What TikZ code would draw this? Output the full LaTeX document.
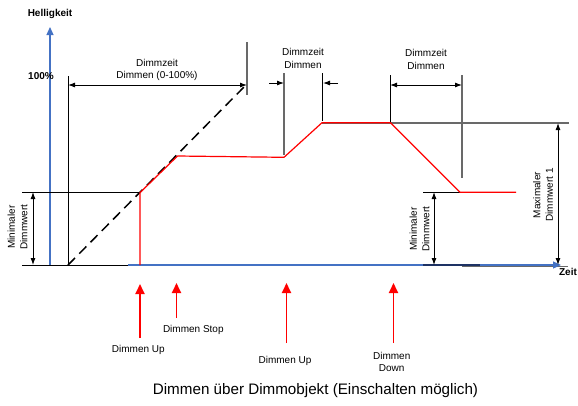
\documentclass[tikz,border=0pt]{standalone}
\usepackage{fontspec}
\setmainfont{Liberation Sans}
\usetikzlibrary{arrows.meta}
\definecolor{axisblue}{RGB}{68,114,196}
\definecolor{linegray}{RGB}{105,105,105}
\definecolor{curvered}{RGB}{255,0,0}
\begin{document}
\begin{tikzpicture}[x=1pt,y=-1pt,
  lbl/.style={font=\fontsize{10}{12.5}\selectfont, align=center, inner sep=0pt},
  boldlbl/.style={font=\fontsize{10}{12}\selectfont\bfseries, inner sep=0pt},
  rotlbl/.style={lbl, rotate=90},
  thin line/.style={draw=black, line width=0.9pt},
  marker line/.style={draw=linegray, line width=1.6pt},
  dimarrow/.style={draw=black, line width=0.9pt, {Latex[length=7pt,width=5pt]}-{Latex[length=7pt,width=5pt]}},
  onearrow/.style={draw=black, line width=0.9pt, -{Latex[length=7pt,width=5pt]}},
  axis/.style={draw=axisblue, line width=1.2pt, -{Triangle[length=8pt,width=7pt]}},
  curve/.style={draw=curvered, line width=1.2pt},
  event/.style={draw=curvered, line width=1.8pt, -{Triangle[length=10pt,width=9pt]}}]
\useasboundingbox (0,0) rectangle (578,405);

% ---- axes ----
\coordinate (yBase) at (50,265);
\coordinate (yTip) at (50,27);
\coordinate (xLeft) at (22,265);
\coordinate (xBlue) at (128,265);
\coordinate (xTip) at (561,265);
\draw[thin line] (xLeft) -- (xBlue);
\coordinate (minRa) at (423,265);
\coordinate (minRb) at (480,265);
\coordinate (maxRa) at (462,266);
\coordinate (maxRb) at (568,266);
\draw[draw=linegray, line width=1pt] (maxRa) -- (maxRb);
\draw[axis] (yBase) -- (yTip);
\draw[axis] (xBlue) -- (xTip);
\draw[draw={rgb,255:red,30;green,50;blue,100}, line width=1.2pt] (minRa) -- (minRb);
\node[boldlbl] (hell) at (50,14) {Helligkeit};
\node[boldlbl] (zeit) at (568,272) {Zeit};
\node[boldlbl] (full) at (41,76) {100\%};

% ---- Dimmzeit 0-100% ----
\coordinate (s0top) at (68,76);
\coordinate (s0bot) at (68,265);
\coordinate (e0top) at (247,42);
\coordinate (e0bot) at (247,95);
\coordinate (a0l) at (68,85);
\coordinate (a0r) at (247,85);
\draw[thin line] (s0top) -- (s0bot);
\draw[marker line] (e0top) -- (e0bot);
\draw[dimarrow] (a0l) -- (a0r);
\node[lbl] (t0) at (157,70) {Dimmzeit\\Dimmen (0-100\%)};
\coordinate (rampEnd) at (245,86);
\draw[black, line width=1.5pt, dash pattern=on 10pt off 6pt] (s0bot) -- (rampEnd);

% ---- left minimum level ----
\coordinate (minLa) at (22,192);
\coordinate (minLb) at (140,192);
\coordinate (minLt) at (33,192);
\coordinate (minLs) at (33,265);
\draw[thin line] (minLa) -- (minLb);
\draw[dimarrow] (minLt) -- (minLs);
\node[rotlbl] (minL) at (17.5,227) {Minimaler\\Dimmwert};

% ---- Dimmzeit, second ramp ----
\coordinate (s1top) at (284,73);
\coordinate (s1bot) at (284,155);
\coordinate (e1top) at (322.5,73);
\coordinate (e1bot) at (322.5,121);
\draw[draw=linegray, line width=1.2pt] (s1top) -- (s1bot);
\draw[thin line] (e1top) -- (e1bot);
\coordinate (a1from) at (269,83);
\coordinate (a1to) at (284,83);
\coordinate (b1from) at (338,83);
\coordinate (b1to) at (323,83);
\draw[onearrow] (a1from) -- (a1to);
\draw[onearrow] (b1from) -- (b1to);
\node[lbl] (t1) at (303,58.5) {Dimmzeit\\Dimmen};

% ---- Dimmzeit, ramp down ----
\coordinate (s2top) at (390,75);
\coordinate (s2bot) at (390,122);
\coordinate (e2top) at (462,75);
\coordinate (e2bot) at (462,178);
\draw[thin line] (s2top) -- (s2bot);
\draw[marker line] (e2top) -- (e2bot);
\coordinate (a2l) at (390,85);
\coordinate (a2r) at (462,85);
\draw[dimarrow] (a2l) -- (a2r);
\node[lbl] (t2) at (426,59.5) {Dimmzeit\\Dimmen};

% ---- maximum level ----
\coordinate (maxA) at (322,123);
\coordinate (maxB) at (569,123);
\draw[marker line] (maxA) -- (maxB);
\coordinate (maxT) at (558,123);
\coordinate (maxS) at (558,265);
\draw[dimarrow] (maxT) -- (maxS);
\node[rotlbl] (maxL) at (543,195) {Maximaler\\Dimmwert 1};

% ---- right minimum level ----
\coordinate (minRl) at (423,192);
\coordinate (minRr) at (460,192);
\draw[thin line] (minRl) -- (minRr);
\coordinate (minRt) at (434,192);
\coordinate (minRs) at (434,265);
\draw[dimarrow] (minRt) -- (minRs);
\node[rotlbl] (minR) at (419.5,229) {Minimaler\\Dimmwert};

% ---- brightness curve ----
\coordinate (c0) at (140,265);
\coordinate (c1) at (140,192.7);
\coordinate (c2) at (177.5,156);
\coordinate (c3) at (284,157.3);
\coordinate (c4) at (322,122.7);
\coordinate (c5) at (390.5,122.7);
\coordinate (c6) at (460,192.3);
\coordinate (c7) at (516,192.3);
\draw[curve, line join=round] (c0) -- (c1) -- (c2) -- (c3) -- (c4) -- (c5) -- (c6) -- (c7);

% ---- telegrams ----
\coordinate (ev1a) at (140,338);  \coordinate (ev1b) at (140,284);
\coordinate (ev2a) at (176.5,318); \coordinate (ev2b) at (176.5,283);
\coordinate (ev3a) at (286.5,343); \coordinate (ev3b) at (286.5,283);
\coordinate (ev4a) at (393.5,343); \coordinate (ev4b) at (393.5,283);
\draw[event] (ev1a) -- (ev1b);
\draw[event] (ev2a) -- (ev2b);
\draw[event] (ev3a) -- (ev3b);
\draw[event] (ev4a) -- (ev4b);
\node[lbl] (up1) at (138.3,349.5) {Dimmen Up};
\node[lbl] (stop) at (193.3,329.5) {Dimmen Stop};
\node[lbl] (up2) at (285,361) {Dimmen Up};
\node[lbl] (down) at (391.7,362) {Dimmen\\Down};

% ---- caption ----
\node[font=\fontsize{15.2}{17}\selectfont, inner sep=0pt] (cap) at (315.5,391) {Dimmen über Dimmobjekt (Einschalten möglich)};
\end{tikzpicture}
\end{document}
